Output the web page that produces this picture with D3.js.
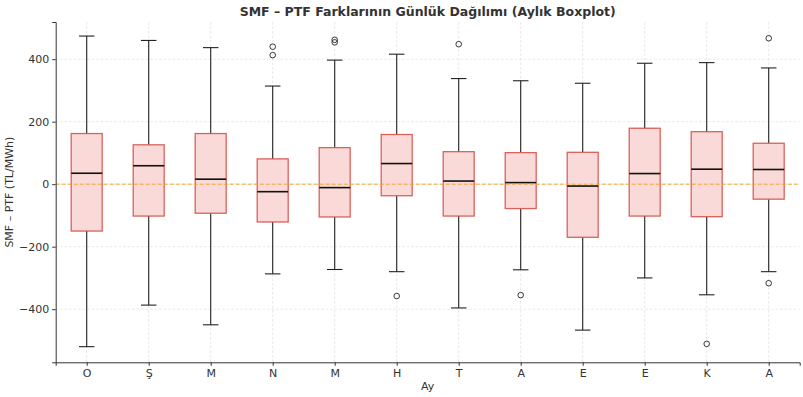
<!DOCTYPE html>
<html>
<head>
<meta charset="utf-8">
<script src="https://cdn.jsdelivr.net/npm/d3@7"></script>
<style>
  body { margin: 0; background: #fff; }
  text { font-family: "DejaVu Sans", sans-serif; }
</style>
</head>
<body>
<div id="container"></div>
<script>
/**
 * DATA
 * */
const months   = ["O", "Ş", "M", "N", "M", "H", "T", "A", "E", "E", "K", "A"];
const whiskLo  = [-520, -387, -450, -287, -273, -280, -396, -274, -467, -300, -354, -280];
const q1       = [-150, -102, -93, -121, -105, -37, -102, -78, -170, -102, -104, -48];
const medians  = [35, 59, 16, -24, -11, 66, 10, 5, -6, 34, 48, 47];
const q3       = [162, 126, 162, 81, 117, 159, 104, 101, 102, 179, 168, 131];
const whiskHi  = [474, 460, 437, 314, 397, 416, 338, 331, 323, 387, 389, 372];
const outliers = [[], [], [], [440, 413], [462, 454], [-358], [448], [-355], [], [], [-511], [467, -317]];
const yTicks   = [-400, -200, 0, 200, 400];

/**
 * CONSTANTS
 * */
const width = 803,
  height = 397,
  margin = { top: 22, bottom: 34.7, left: 55.7, right: 3.3 };

const rows = months.map((m, i) => ({
  i, m,
  lo: whiskLo[i], q1: q1[i], med: medians[i], q3: q3[i], hi: whiskHi[i],
  out: outliers[i]
}));

const svg = d3.select("#container")
  .append("svg")
  .attr("width", width)
  .attr("height", height);

const x = d3.scaleLinear()
  .domain([0.5, 12.5])
  .range([margin.left, width - margin.right]);

const y = d3.scaleLinear()
  .domain([-570, 519])
  .range([height - margin.bottom, margin.top]);

const boxW = x(1.5) - x(1);   // 0.5 in data units
const capW = boxW / 2;

// grid
const grid = svg.append("g").attr("class", "grid");
grid.selectAll("line.gy")
  .data(yTicks)
  .join("line")
  .attr("class", "gy")
  .attr("x1", margin.left).attr("x2", width - margin.right)
  .attr("y1", d => y(d)).attr("y2", d => y(d))
  .attr("stroke", "#d8d8d8").attr("stroke-width", 0.6)
  .attr("stroke-dasharray", "2.5,2");
grid.selectAll("line.gx")
  .data(rows)
  .join("line")
  .attr("class", "gx")
  .attr("x1", d => x(d.i + 1)).attr("x2", d => x(d.i + 1))
  .attr("y1", margin.top).attr("y2", height - margin.bottom)
  .attr("stroke", "#d8d8d8").attr("stroke-width", 0.6)
  .attr("stroke-dasharray", "2.5,2");

// boxes
const g = svg.selectAll("g.box")
  .data(rows)
  .join("g")
  .attr("class", "box");

// whiskers
g.append("line")
  .attr("x1", d => x(d.i + 1)).attr("x2", d => x(d.i + 1))
  .attr("y1", d => y(d.hi)).attr("y2", d => y(d.q3))
  .attr("stroke", "#222").attr("stroke-width", 1.1);
g.append("line")
  .attr("x1", d => x(d.i + 1)).attr("x2", d => x(d.i + 1))
  .attr("y1", d => y(d.q1)).attr("y2", d => y(d.lo))
  .attr("stroke", "#222").attr("stroke-width", 1.1);
// caps
g.append("line")
  .attr("x1", d => x(d.i + 1) - capW / 2).attr("x2", d => x(d.i + 1) + capW / 2)
  .attr("y1", d => y(d.hi)).attr("y2", d => y(d.hi))
  .attr("stroke", "#222").attr("stroke-width", 1.1);
g.append("line")
  .attr("x1", d => x(d.i + 1) - capW / 2).attr("x2", d => x(d.i + 1) + capW / 2)
  .attr("y1", d => y(d.lo)).attr("y2", d => y(d.lo))
  .attr("stroke", "#222").attr("stroke-width", 1.1);

g.append("rect")
  .attr("x", d => x(d.i + 1) - boxW / 2)
  .attr("width", boxW)
  .attr("y", d => y(d.q3))
  .attr("height", d => y(d.q1) - y(d.q3))
  .attr("fill", "#f9dad8")
  .attr("stroke", "#d24a42")
  .attr("stroke-opacity", 0.85)
  .attr("stroke-width", 1.3);

// zero reference line
svg.append("line")
  .attr("x1", margin.left).attr("x2", width - margin.right)
  .attr("y1", y(0)).attr("y2", y(0))
  .attr("stroke", "#f0a528").attr("stroke-width", 1)
  .attr("stroke-dasharray", "4,2");

// medians
g.append("line")
  .attr("x1", d => x(d.i + 1) - boxW / 2).attr("x2", d => x(d.i + 1) + boxW / 2)
  .attr("y1", d => y(d.med)).attr("y2", d => y(d.med))
  .attr("stroke", "#111").attr("stroke-width", 1.6);

// fliers
g.selectAll("circle")
  .data(d => d.out.map(v => ({ i: d.i, v })))
  .join("circle")
  .attr("cx", d => x(d.i + 1))
  .attr("cy", d => y(d.v))
  .attr("r", 2.8)
  .attr("fill", "none")
  .attr("stroke", "#222")
  .attr("stroke-width", 0.9);

// axes
const xAxis = d3.axisBottom(x)
  .tickValues(d3.range(1, 13))
  .tickFormat(d => months[d - 1])
  .tickSizeOuter(0)
  .tickSize(3.5)
  .tickPadding(3);
const yAxis = d3.axisLeft(y)
  .tickValues(yTicks)
  .tickFormat(d => d < 0 ? "\u2212" + Math.abs(d) : d)
  .tickSizeOuter(0)
  .tickSize(3.5)
  .tickPadding(3);

const gx = svg.append("g")
  .attr("transform", `translate(0,${height - margin.bottom})`)
  .call(xAxis);
const gy = svg.append("g")
  .attr("transform", `translate(${margin.left},0)`)
  .call(yAxis);

[gx, gy].forEach(a => {
  a.select(".domain").attr("stroke", "#333").attr("stroke-width", 1);
  a.selectAll(".tick line").attr("stroke", "#333");
  a.selectAll(".tick text")
    .attr("fill", "#333")
    .style("font-family", "DejaVu Sans")
    .style("font-size", "11px");
});

// labels
svg.append("text")
  .attr("x", (margin.left + width - margin.right) / 2)
  .attr("y", 16)
  .attr("text-anchor", "middle")
  .attr("font-weight", "bold")
  .attr("font-size", "12.5px")
  .attr("fill", "#333")
  .text("SMF – PTF Farklarının Günlük Dağılımı (Aylık Boxplot)");

svg.append("text")
  .attr("x", (margin.left + width - margin.right) / 2)
  .attr("y", 390)
  .attr("text-anchor", "middle")
  .attr("font-size", "11px")
  .attr("fill", "#333")
  .text("Ay");

svg.append("text")
  .attr("transform", `translate(13,${(margin.top + height - margin.bottom) / 2}) rotate(-90)`)
  .attr("text-anchor", "middle")
  .attr("font-size", "11px")
  .attr("fill", "#333")
  .text("SMF – PTF (TL/MWh)");
</script>
</body>
</html>
